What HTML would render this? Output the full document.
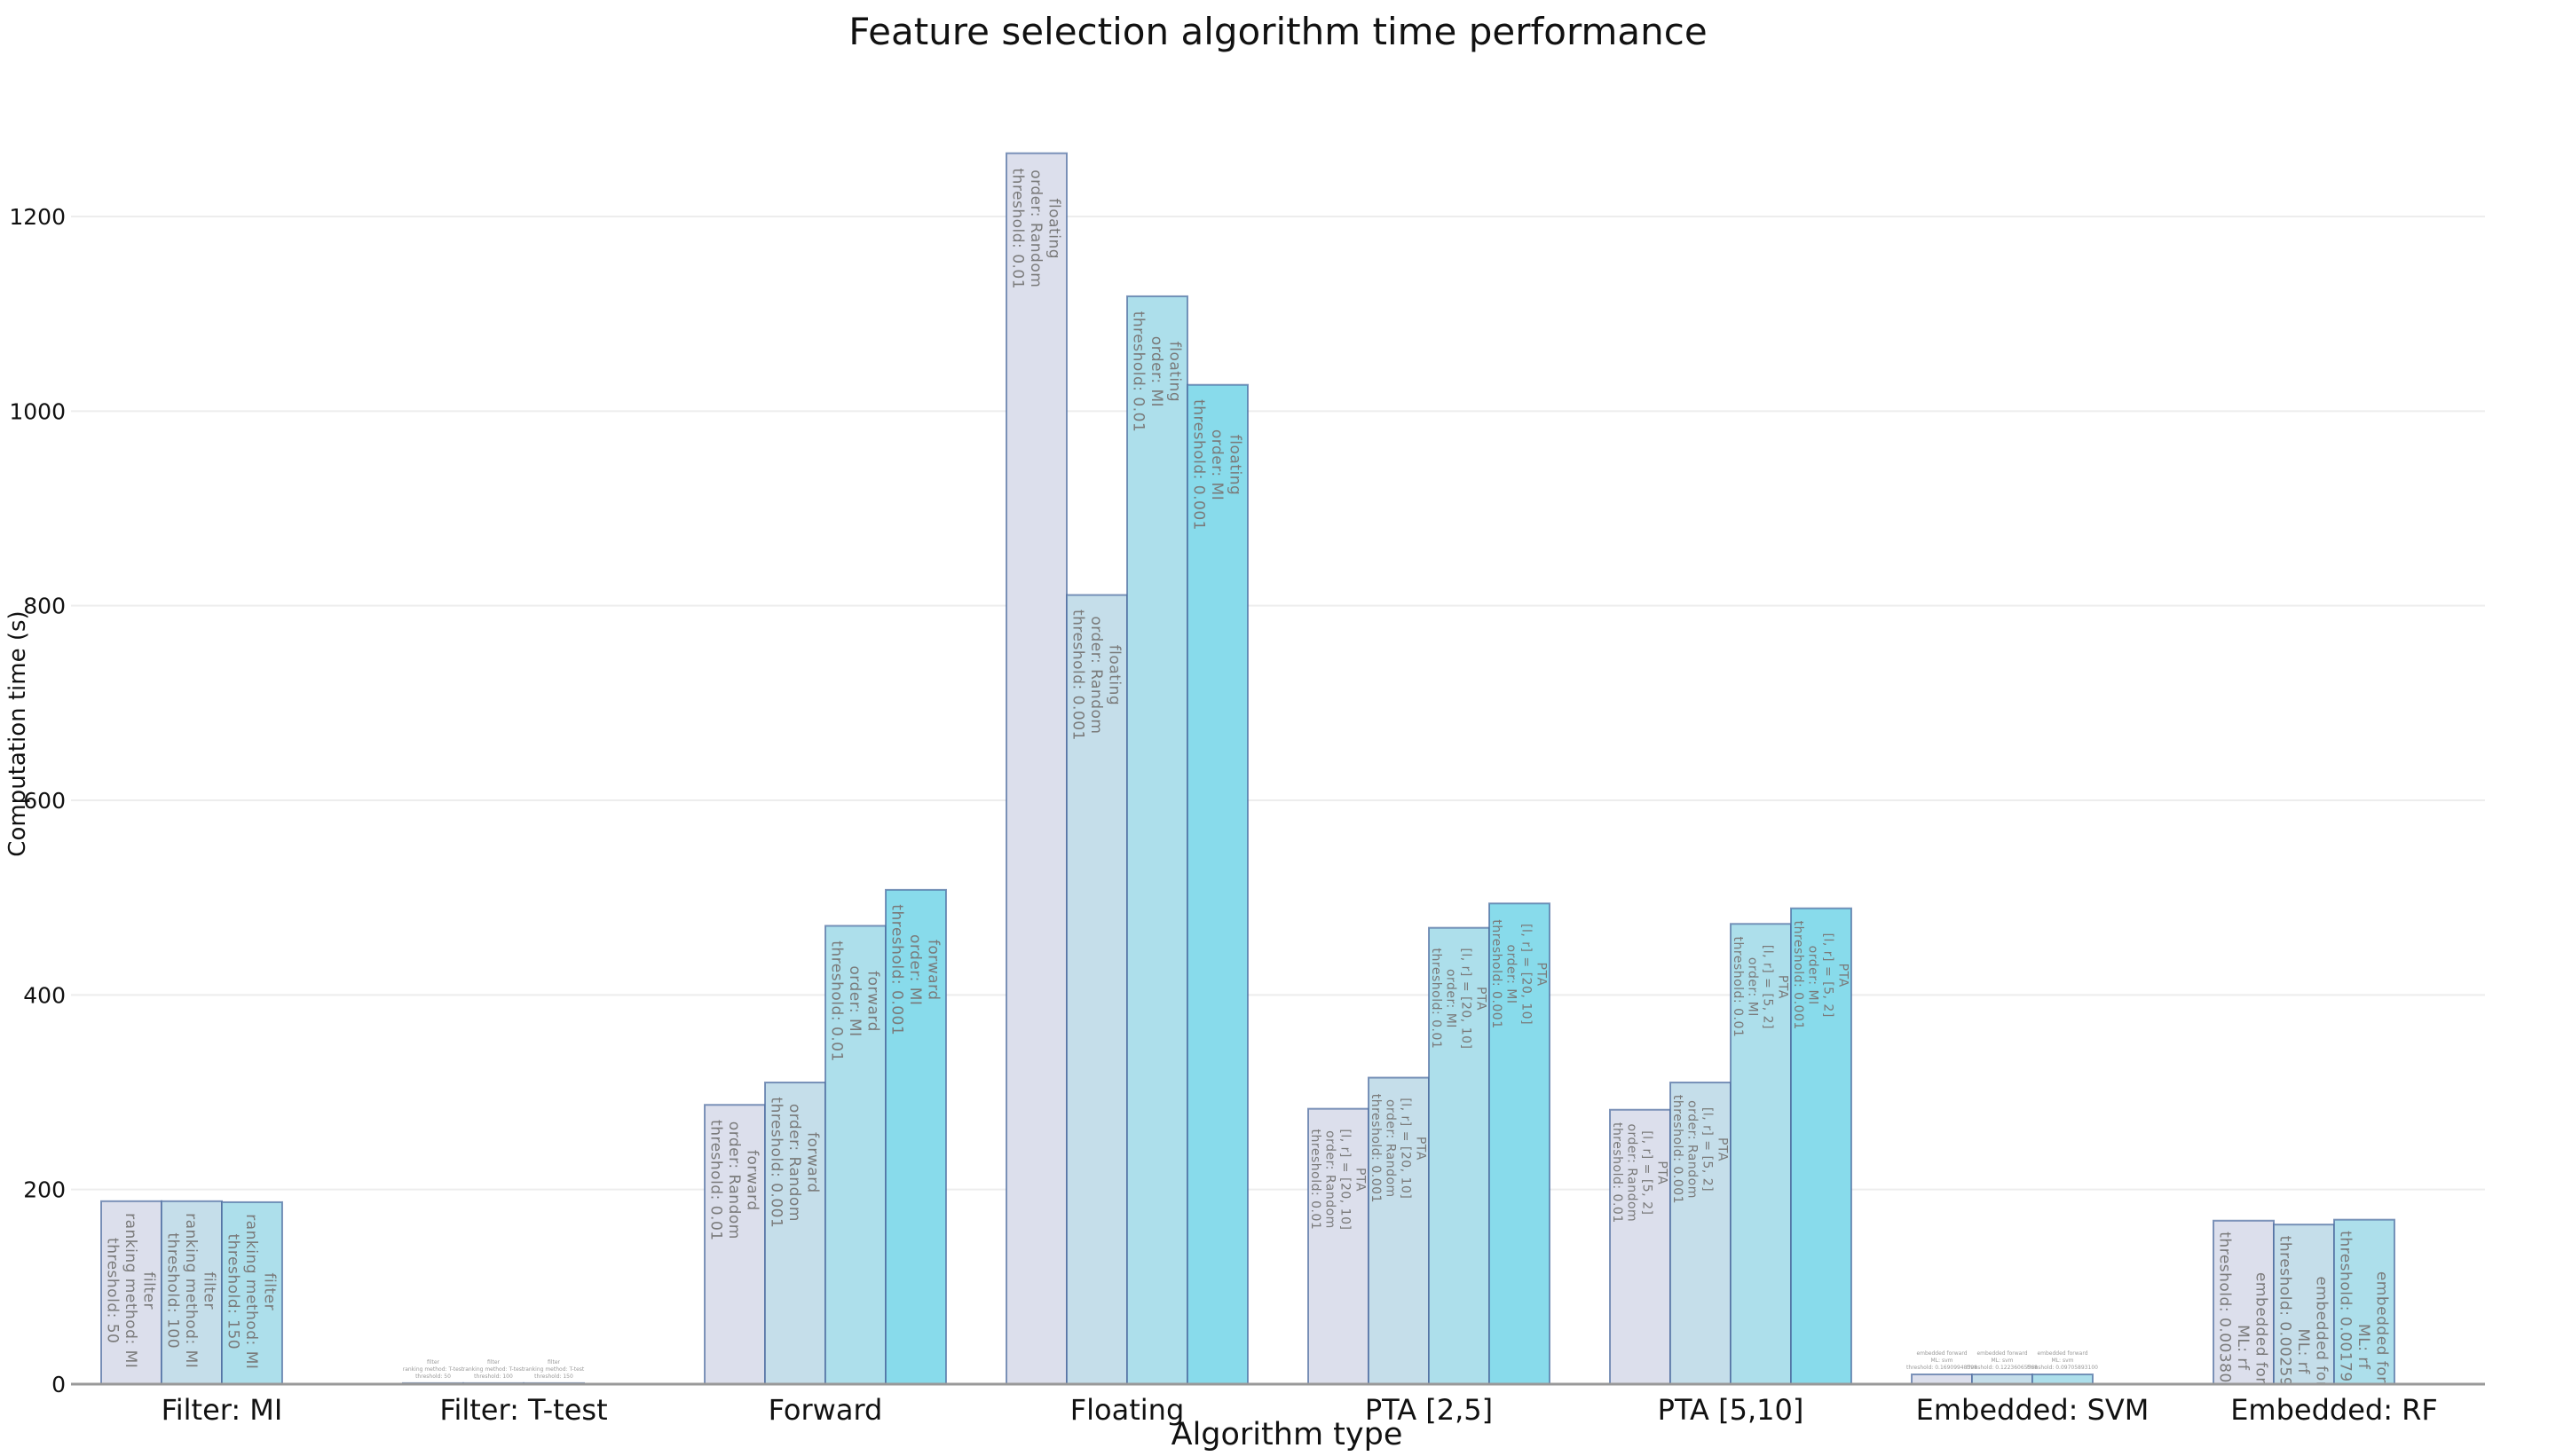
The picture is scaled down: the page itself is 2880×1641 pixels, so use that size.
<!DOCTYPE html>
<html><head><meta charset="utf-8">
<style>
html,body{margin:0;padding:0;background:#fff;}
svg{display:block;font-family:"DejaVu Sans","Liberation Sans",sans-serif;}
</style></head>
<body>
<svg id="chart" width="2880" height="1641" xmlns="http://www.w3.org/2000/svg">
<defs id="defs"></defs>
<text x="1440" y="50" text-anchor="middle" font-size="42" fill="#111">Feature selection algorithm time performance</text>
<text x="1450" y="1628" text-anchor="middle" font-size="35" fill="#111">Algorithm type</text>
<text transform="translate(28,827) rotate(-90)" text-anchor="middle" font-size="26" fill="#111">Computation time (s)</text>
<g id="grid"></g><g id="bars"></g><g id="axes"></g>
</svg>
<script>
const categories = ["Filter: MI","Filter: T-test","Forward","Floating","PTA [2,5]","PTA [5,10]","Embedded: SVM","Embedded: RF"];
const series1 = [188, 1, 287, 1265, 283, 282, 10, 168];
const series2 = [188, 1, 310, 811, 315, 310, 10, 164];
const series3 = [187, 1, 471, 1118, 469, 473, 10, 169];
const series4 = [null, null, 508, 1027, 494, 489, null, null];
const yTicks = [0, 200, 400, 600, 800, 1000, 1200];
const labels = [
 [["filter","ranking method: MI","threshold: 50"],["filter","ranking method: MI","threshold: 100"],["filter","ranking method: MI","threshold: 150"],null],
 [["filter","ranking method: T-test","threshold: 50"],["filter","ranking method: T-test","threshold: 100"],["filter","ranking method: T-test","threshold: 150"],null],
 [["forward","order: Random","threshold: 0.01"],["forward","order: Random","threshold: 0.001"],["forward","order: MI","threshold: 0.01"],["forward","order: MI","threshold: 0.001"]],
 [["floating","order: Random","threshold: 0.01"],["floating","order: Random","threshold: 0.001"],["floating","order: MI","threshold: 0.01"],["floating","order: MI","threshold: 0.001"]],
 [["PTA","[l, r] = [20, 10]","order: Random","threshold: 0.01"],["PTA","[l, r] = [20, 10]","order: Random","threshold: 0.001"],["PTA","[l, r] = [20, 10]","order: MI","threshold: 0.01"],["PTA","[l, r] = [20, 10]","order: MI","threshold: 0.001"]],
 [["PTA","[l, r] = [5, 2]","order: Random","threshold: 0.01"],["PTA","[l, r] = [5, 2]","order: Random","threshold: 0.001"],["PTA","[l, r] = [5, 2]","order: MI","threshold: 0.01"],["PTA","[l, r] = [5, 2]","order: MI","threshold: 0.001"]],
 [["embedded forward","ML: svm","threshold: 0.16909948398"],["embedded forward","ML: svm","threshold: 0.12236065568"],["embedded forward","ML: svm","threshold: 0.09705893100"],null],
 [["embedded forward","ML: rf","threshold: 0.0038066020879"],["embedded forward","ML: rf","threshold: 0.0025965686682"],["embedded forward","ML: rf","threshold: 0.0017988792034"],null]
];
const allSeries = [series1, series2, series3, series4];
const colors = ["#dcdfec","#c5deea","#addfeb","#88dbeb"];
const NS = "http://www.w3.org/2000/svg";
const X0 = 80, X1 = 2800, Y0 = 1560, pxPerUnit = 1316/1200;
const catW = (X1 - X0) / categories.length;
const barW = catW * 0.8 / 4;
function y(v){ return Y0 - v * pxPerUnit; }
function xCat(i){ return X0 + (i + 0.5) * catW; }
function mk(tag, attrs, parent){ const e = document.createElementNS(NS, tag); for (const k in attrs) e.setAttribute(k, attrs[k]); parent.appendChild(e); return e; }
const grid = document.getElementById('grid'), bars = document.getElementById('bars'), axes = document.getElementById('axes'), defs = document.getElementById('defs');
yTicks.forEach(t => {
  if (t > 0) {
    const g = mk('line', {x1: X0, x2: X1, y1: y(t), y2: y(t), stroke: '#ededed', 'stroke-width': 2}, grid);
    
    
  }
  const tl = mk('text', {x: 74, y: y(t) + 9, 'text-anchor': 'end', 'font-size': 25, fill: '#111'}, axes);
  tl.textContent = t;
  
  
});
const ax = mk('line', {x1: X0, x2: X1, y1: Y0, y2: Y0, stroke: '#999', 'stroke-width': 3}, axes);


let cid = 0;
categories.forEach((c, i) => {
  const t = mk('text', {x: xCat(i), y: 1600, 'text-anchor': 'middle', 'font-size': 32, fill: '#111'}, axes);
  t.textContent = c;
  
  
  allSeries.forEach((s, j) => {
    const v = s[i];
    if (v === null || v === undefined) return;
    const bx = xCat(i) - 2 * barW + j * barW;
    const r = mk('rect', {x: bx, y: y(v), width: barW, height: Y0 - y(v), fill: colors[j], stroke: '#4a6a9e', 'stroke-opacity': 0.7, 'stroke-width': 2}, bars);
    
    
    const lab = labels[i][j];
    if (!lab) return;
    const h = Y0 - y(v);
    if (h > 100) {
      cid++;
      const cp = mk('clipPath', {id: 'c' + cid}, defs);
      mk('rect', {x: bx, y: y(v), width: barW, height: h}, cp);
      const fs = lab.length > 3 ? 14 : 17;
      const lh = fs * 1.2;
      const cx = bx + barW / 2 + (lab.length - 1) * lh / 2 - fs * 0.35;
      const g = mk('g', {'clip-path': 'url(#c' + cid + ')'}, bars);
      
      
      const maxLen = Math.max(...lab.map(l => l.length));
      const ytop = y(v) + 6;
      lab.forEach((l, k) => {
        const lx = cx - k * lh;
        const ty = ytop + maxLen * fs * 0.62 / 2;
        const tt = mk('text', {transform: `translate(${lx},${ty}) rotate(90)`, 'text-anchor': 'middle', 'font-size': fs, fill: '#7a7a7a', 'letter-spacing': 0.5}, g);
        tt.textContent = l;
      });
    } else {
      const g = mk('g', {}, bars);
      
      
      lab.forEach((l, k) => {
        const tt = mk('text', {x: bx + barW / 2, y: y(v) - 6 - (lab.length - 1 - k) * 8, 'text-anchor': 'middle', 'font-size': 6, fill: '#999'}, g);
        tt.textContent = l;
      });
    }
  });
});
</script>
</body></html>
